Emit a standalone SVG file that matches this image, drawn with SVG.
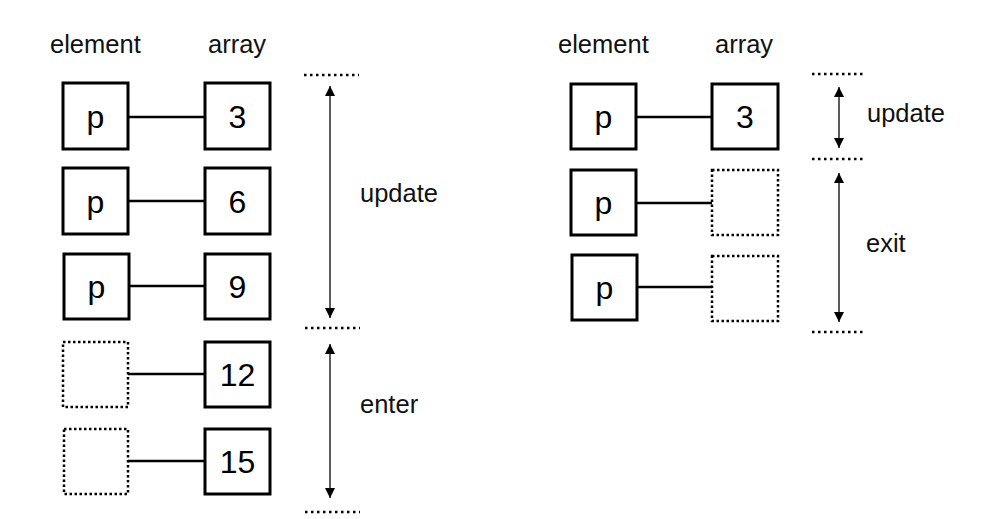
<svg xmlns="http://www.w3.org/2000/svg" width="999" height="519" viewBox="0 0 999 519">
<style>
.box{fill:#fff;stroke:#000;stroke-width:3}
.dbox{fill:#fff;stroke:#000;stroke-width:2.5;stroke-dasharray:2.5 2.5}
.link{stroke:#000;stroke-width:2.5;fill:none}
.arr{stroke:#333;stroke-width:1.6;fill:none;marker-start:url(#ah);marker-end:url(#ah)}
.dot{stroke:#000;stroke-width:2.5;stroke-dasharray:2.5 3.5;fill:none}
.hd{font-family:"Liberation Sans",Arial,sans-serif;font-size:25.5px;fill:#111}
.lb{font-family:"Liberation Sans",Arial,sans-serif;font-size:25.5px;fill:#111}
.nt{font-family:"Liberation Sans",Arial,sans-serif;font-size:32px;fill:#000;text-anchor:middle}
</style>
<defs>
<marker id="ah" viewBox="0 0 10 10" refX="10" refY="5" markerWidth="10" markerHeight="10" markerUnits="userSpaceOnUse" orient="auto-start-reverse">
<path d="M0,0 L10,5 L0,10 Z" fill="#000"/>
</marker>
</defs>
<g id="headers">
<text class="hd" x="50" y="53">element</text>
<text class="hd" x="208" y="53">array</text>
<text class="hd" x="558" y="53">element</text>
<text class="hd" x="715" y="53">array</text>
</g>
<g id="connectors">
<line class="link" x1="128" y1="117" x2="205" y2="117"/>
<line class="link" x1="128" y1="201" x2="205" y2="201"/>
<line class="link" x1="129" y1="286" x2="205" y2="286"/>
<line class="link" x1="128" y1="374" x2="205" y2="374"/>
<line class="link" x1="128" y1="461" x2="205" y2="461"/>
<line class="link" x1="636" y1="117" x2="712" y2="117"/>
<line class="link" x1="636" y1="203" x2="712" y2="203"/>
<line class="link" x1="637" y1="287" x2="712" y2="287"/>
<line class="arr" x1="330" y1="86" x2="330" y2="318"/>
<line class="arr" x1="330" y1="344" x2="330" y2="498"/>
<line class="arr" x1="839" y1="87" x2="839" y2="148"/>
<line class="arr" x1="839" y1="173" x2="839" y2="322"/>
<line class="dot" x1="304" y1="75" x2="359" y2="75"/>
<line class="dot" x1="305" y1="328" x2="360" y2="328"/>
<line class="dot" x1="305" y1="512" x2="360" y2="512"/>
<line class="dot" x1="812" y1="74" x2="866" y2="74"/>
<line class="dot" x1="812" y1="159" x2="866" y2="159"/>
<line class="dot" x1="812" y1="332" x2="866" y2="332"/>
</g>
<g id="l-el1"><rect class="box" x="63" y="83" width="65" height="66"/><text class="nt" x="95.5" y="128">p</text></g>
<g id="l-el2"><rect class="box" x="63" y="168" width="65" height="66"/><text class="nt" x="95.5" y="213">p</text></g>
<g id="l-el3"><rect class="box" x="64" y="254" width="65" height="65"/><text class="nt" x="96.5" y="298">p</text></g>
<g id="l-el4"><rect class="dbox" x="63" y="342" width="65" height="65"/></g>
<g id="l-el5"><rect class="dbox" x="64" y="429" width="64" height="65"/></g>
<g id="l-ar1"><rect class="box" x="205" y="83" width="65" height="66"/><text class="nt" x="237.5" y="128">3</text></g>
<g id="l-ar2"><rect class="box" x="205" y="168" width="65" height="66"/><text class="nt" x="237.5" y="213">6</text></g>
<g id="l-ar3"><rect class="box" x="205" y="254" width="65" height="65"/><text class="nt" x="237.5" y="298">9</text></g>
<g id="l-ar4"><rect class="box" x="205" y="342" width="65" height="65"/><text class="nt" x="237.5" y="386">12</text></g>
<g id="l-ar5"><rect class="box" x="205" y="429" width="65" height="65"/><text class="nt" x="237.5" y="473">15</text></g>
<g id="l-update"><text class="lb" x="360" y="202">update</text></g>
<g id="l-enter"><text class="lb" x="360" y="413">enter</text></g>
<g id="r-el1"><rect class="box" x="571" y="84" width="65" height="65"/><text class="nt" x="603.5" y="128">p</text></g>
<g id="r-el2"><rect class="box" x="571" y="170" width="65" height="65"/><text class="nt" x="603.5" y="214">p</text></g>
<g id="r-el3"><rect class="box" x="572" y="255" width="65" height="65"/><text class="nt" x="604.5" y="299">p</text></g>
<g id="r-ar1"><rect class="box" x="712" y="84" width="66" height="65"/><text class="nt" x="745" y="128">3</text></g>
<g id="r-ar2"><rect class="dbox" x="712" y="170" width="66" height="65"/></g>
<g id="r-ar3"><rect class="dbox" x="712" y="256" width="66" height="65"/></g>
<g id="r-update"><text class="lb" x="867" y="122">update</text></g>
<g id="r-exit"><text class="lb" x="866" y="252">exit</text></g>
</svg>
